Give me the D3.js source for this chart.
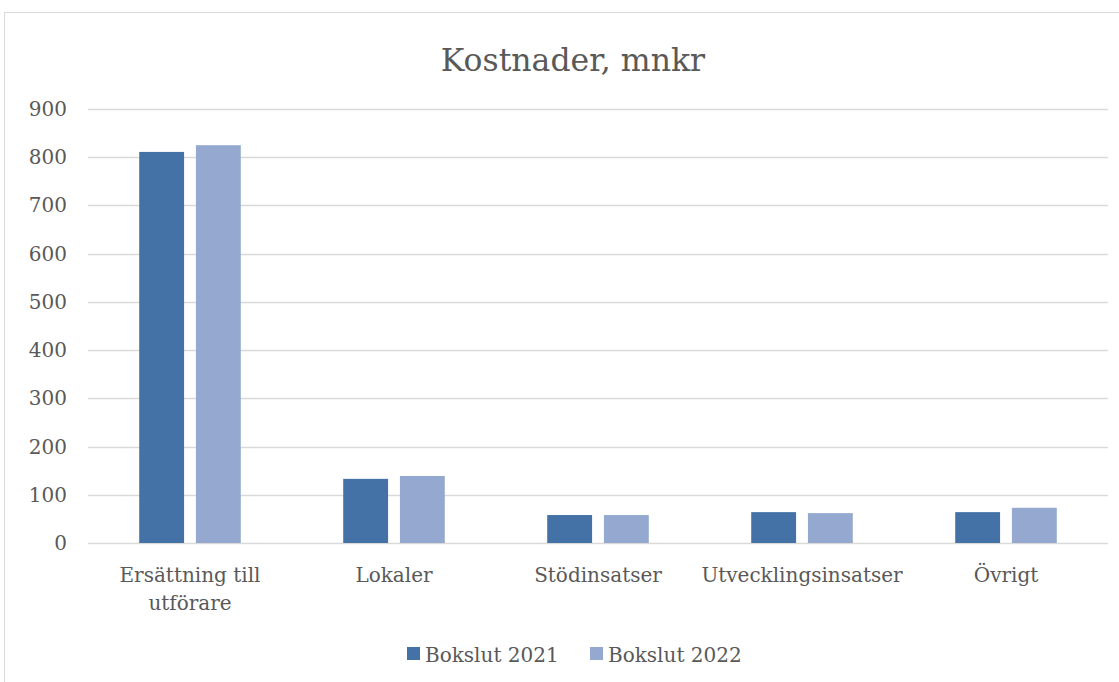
<!DOCTYPE html>
<html><head><meta charset="utf-8">
<script src="https://cdn.jsdelivr.net/npm/d3@7"></script>
<style>body{margin:0;background:#fff;} text{font-family:"DejaVu Serif","Liberation Serif",serif;fill:#595959;}</style>
</head><body>
<svg id="c" width="1119" height="682"></svg>
<script>
const categories = ["Ersättning till utförare","Lokaler","Stödinsatser","Utvecklingsinsatser","Övrigt"];
const catLines = [["Ersättning till","utförare"],["Lokaler"],["Stödinsatser"],["Utvecklingsinsatser"],["Övrigt"]];
const seriesNames = ["Bokslut 2021","Bokslut 2022"];
const values2021 = [811,133,58,64,64];
const values2022 = [825,139,58,62,73];
const yTicks = [0,100,200,300,400,500,600,700,800,900];
const colors = ["#4472a6","#95a9d0"];

const svg = d3.select("#c");
svg.append("rect").attr("x",4.5).attr("y",12.5).attr("width",1130).attr("height",700).attr("fill","#fff").attr("stroke","#d9d9d9");

const pLeft=88, pRight=1108, pTop=109, pBottom=543;
const x = d3.scaleBand().domain(categories).range([pLeft,pRight]);
const y = d3.scaleLinear().domain([0,900]).range([pBottom,pTop]);

svg.append("text").attr("x",573).attr("y",71).attr("text-anchor","middle").style("font-size","31.5px").text("Kostnader, mnkr");

svg.append("g").selectAll("line").data(yTicks).join("line")
  .attr("x1",pLeft).attr("x2",pRight).attr("y1",d=>Math.round(y(d))+0.5).attr("y2",d=>Math.round(y(d))+0.5)
  .attr("stroke","#d9d9d9").attr("stroke-width",1.5);
svg.append("g").selectAll("text").data(yTicks).join("text")
  .attr("x",67).attr("y",d=>y(d)+7).attr("text-anchor","end").style("font-size","20px").text(d=>d);

const bw = x.bandwidth();
const barW = bw*0.22, gap = bw*0.058;
const series = [values2021, values2022];
series.forEach((vals,si)=>{
  svg.append("g").selectAll("rect").data(categories).join("rect")
    .attr("x",(d,i)=>x(d)+bw/2 + (si===0 ? -gap/2-barW : gap/2))
    .attr("y",(d,i)=>y(vals[i]))
    .attr("width",barW)
    .attr("height",(d,i)=>y(0)-y(vals[i]))
    .attr("fill",colors[si]);
});

const cl = svg.append("g");
categories.forEach((c,i)=>{
  catLines[i].forEach((ln,j)=>{
    cl.append("text").attr("x",x(c)+bw/2).attr("y",582+j*28).attr("text-anchor","middle").style("font-size","20px").text(ln);
  });
});

const lg = svg.append("g");
const lx=[407,590];
seriesNames.forEach((s,i)=>{
  lg.append("rect").attr("x",lx[i]).attr("y",647).attr("width",13).attr("height",13).attr("fill",colors[i]);
  lg.append("text").attr("x",lx[i]+18).attr("y",662).style("font-size","20px").text(s);
});
</script>
</body></html>
